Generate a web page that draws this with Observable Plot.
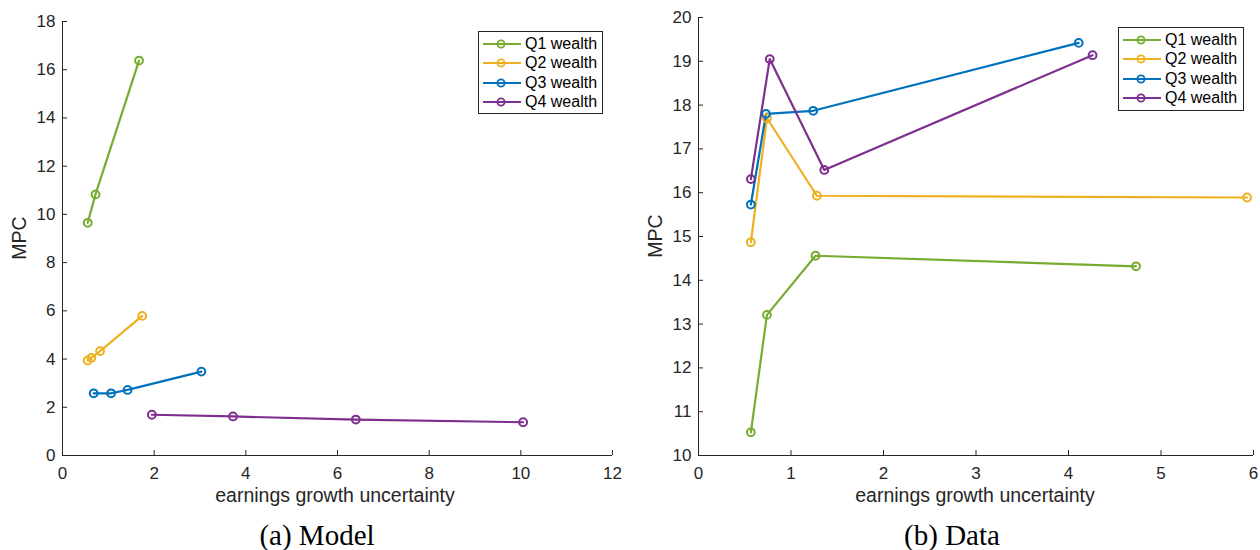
<!DOCTYPE html>
<html>
<head>
<meta charset="utf-8">
<script src="https://cdn.jsdelivr.net/npm/d3@7"></script>
<script src="https://cdn.jsdelivr.net/npm/@observablehq/plot@0.6"></script>
<style>
  html, body { margin: 0; padding: 0; background: #fff; }
  #wrap { position: relative; width: 1260px; height: 550px; overflow: hidden; font-family: "Liberation Sans", Arial, sans-serif; color: #262626; }
  .panel { position: absolute; top: 0; }
  .xlabel { position: absolute; font-size: 19.5px; line-height: 1; transform: translate(-50%, -50%); white-space: nowrap; color: #262626; }
  .ylabel { position: absolute; font-size: 19.5px; line-height: 1; transform: translate(-50%, -50%) rotate(-90deg); white-space: nowrap; color: #262626; }
  .caption { position: absolute; font-family: "Liberation Serif", "DejaVu Serif", serif; font-size: 29px; line-height: 1; transform: translate(-50%, -50%); white-space: nowrap; color: #000; }
  .legend { position: absolute; border: 1px solid #262626; background: #fff; box-sizing: border-box; padding: 2px 0 0 4px; }
  .legend .row { display: flex; align-items: center; height: 19.5px; font-size: 16px; color: #000; white-space: nowrap; }
  .legend svg { margin-right: 4px; flex-shrink: 0; }
</style>
</head>
<body>
<div id="wrap"></div>
<script>
// ---- data ----
const seriesNames = ["Q1 wealth", "Q2 wealth", "Q3 wealth", "Q4 wealth"];
const seriesColors = ["#77AC30", "#EDB120", "#0072BD", "#7E2F8E"];

// (a) Model
const modelQ1X = [0.55, 0.72, 1.67];
const modelQ1Y = [9.65, 10.83, 16.38];
const modelQ2X = [0.55, 0.63, 0.82, 1.74];
const modelQ2Y = [3.94, 4.05, 4.33, 5.79];
const modelQ3X = [0.68, 1.06, 1.42, 3.03];
const modelQ3Y = [2.58, 2.58, 2.72, 3.48];
const modelQ4X = [1.95, 3.72, 6.40, 10.05];
const modelQ4Y = [1.69, 1.62, 1.49, 1.38];

// (b) Data
const dataQ1X = [0.566, 0.74, 1.265, 4.73];
const dataQ1Y = [10.53, 13.21, 14.56, 14.32];
const dataQ2X = [0.566, 0.74, 1.28, 5.93];
const dataQ2Y = [14.87, 17.70, 15.93, 15.89];
const dataQ3X = [0.566, 0.73, 1.24, 4.11];
const dataQ3Y = [15.73, 17.80, 17.87, 19.42];
const dataQ4X = [0.566, 0.77, 1.36, 4.26];
const dataQ4Y = [16.31, 19.05, 16.52, 19.14];

const modelXTicks = [0, 2, 4, 6, 8, 10, 12];
const modelYTicks = [0, 2, 4, 6, 8, 10, 12, 14, 16, 18];
const dataXTicks = [0, 1, 2, 3, 4, 5, 6];
const dataYTicks = [10, 11, 12, 13, 14, 15, 16, 17, 18, 19, 20];

const xLabel = "earnings growth uncertainty";
const yLabel = "MPC";
const captions = ["(a) Model", "(b) Data"];

// ---- build tables ----
function table(xs, ys) {
  const rows = [];
  xs.forEach((xArr, i) => xArr.forEach((x, j) => rows.push({series: seriesNames[i], x, y: ys[i][j]})));
  return rows;
}
const modelRows = table([modelQ1X, modelQ2X, modelQ3X, modelQ4X], [modelQ1Y, modelQ2Y, modelQ3Y, modelQ4Y]);
const dataRows = table([dataQ1X, dataQ2X, dataQ3X, dataQ4X], [dataQ1Y, dataQ2Y, dataQ3Y, dataQ4Y]);

const axisColor = "#262626";

function panel(rows, xDomain, yDomain, xTicks, yTicks, m) {
  const W = 630, H = 510;
  const pw = W - m.left - m.right, ph = H - m.top - m.bottom;
  return Plot.plot({
    width: W, height: H,
    marginLeft: m.left, marginRight: m.right, marginTop: m.top, marginBottom: m.bottom,
    style: {fontFamily: "'Liberation Sans', Arial, sans-serif", fontSize: "17px", color: axisColor, background: "white", overflow: "visible"},
    x: {domain: xDomain, ticks: xTicks, tickFormat: d3.format("d"), tickSize: 0, tickPadding: 11, label: null},
    y: {domain: yDomain, ticks: yTicks, tickFormat: d3.format("d"), tickSize: 0, tickPadding: 7, label: null},
    color: {domain: seriesNames, range: seriesColors},
    marks: [
      Plot.ruleX([xDomain[0]], {stroke: axisColor, strokeWidth: 1}),
      Plot.ruleY([yDomain[0]], {stroke: axisColor, strokeWidth: 1}),
      Plot.tickY(yTicks, {y: d => d, stroke: axisColor, insetRight: pw - 5}),
      Plot.tickX(xTicks, {x: d => d, stroke: axisColor, insetTop: ph - 5}),
      Plot.line(rows, {x: "x", y: "y", z: "series", stroke: "series", strokeWidth: 2.2}),
      Plot.dot(rows, {x: "x", y: "y", stroke: "series", fill: "none", r: 3.9, strokeWidth: 2})
    ]
  });
}

const wrap = document.getElementById("wrap");

const left = panel(modelRows, [0, 12], [0, 18], modelXTicks, modelYTicks, {left: 62, right: 18, top: 21, bottom: 55});
left.classList.add("panel"); left.style.left = "0px";
wrap.appendChild(left);

const right = panel(dataRows, [0, 6], [10, 20], dataXTicks, dataYTicks, {left: 68, right: 7, top: 17, bottom: 55});
right.classList.add("panel"); right.style.left = "630px";
wrap.appendChild(right);

function addText(cls, text, x, y) {
  const d = document.createElement("div");
  d.className = cls; d.textContent = text;
  d.style.left = x + "px"; d.style.top = y + "px";
  wrap.appendChild(d);
}
addText("xlabel", xLabel, 335, 496);
addText("xlabel", xLabel, 975, 496);
addText("ylabel", yLabel, 20, 238);
addText("ylabel", yLabel, 656, 236);
addText("caption", captions[0], 317, 535);
addText("caption", captions[1], 952, 535);

function legend(x, y, w, h) {
  const box = document.createElement("div");
  box.className = "legend";
  box.style.left = x + "px"; box.style.top = y + "px";
  box.style.width = w + "px"; box.style.height = h + "px";
  seriesNames.forEach((name, i) => {
    const row = document.createElement("div");
    row.className = "row";
    const c = seriesColors[i];
    row.innerHTML = `<svg width="38" height="12"><line x1="0" x2="38" y1="6" y2="6" stroke="${c}" stroke-width="2.2"/><circle cx="18" cy="6" r="3.6" fill="none" stroke="${c}" stroke-width="1.8"/></svg><span>${name}</span>`;
    box.appendChild(row);
  });
  wrap.appendChild(box);
}
legend(478, 31, 125, 83);
legend(1118, 27, 126, 84);
</script>
</body>
</html>
